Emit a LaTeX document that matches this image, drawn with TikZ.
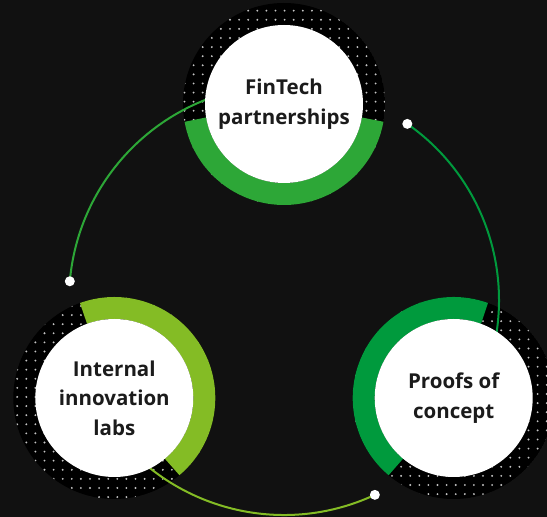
\documentclass[tikz,border=0pt]{standalone}
\usepackage{fontspec}
\setmainfont{Open Sans}
\usetikzlibrary{calc}
\definecolor{bgc}{HTML}{111111}
\definecolor{dotc}{HTML}{C4C4C4}
\definecolor{topg}{HTML}{2DA737}
\definecolor{limeg}{HTML}{84BC25}
\definecolor{darkg}{HTML}{009A3D}
\definecolor{txtc}{HTML}{1B1B1B}
\tikzset{
  whitecirc/.style={circle, fill=white, minimum size=158pt, inner sep=0pt, align=center, text=txtc,
    font=\fontsize{20.5}{29.5}\selectfont\bfseries},
  conn/.style={line width=2pt},
  ring/.style={line width=22pt},
  enddot/.style={circle, fill=white, minimum size=10pt, inner sep=0pt},
}
\begin{document}
\begin{tikzpicture}[x=1pt,y=1pt]
\useasboundingbox (0,0) rectangle (547,517);
\clip (0,0) rectangle (547,517);
\fill[bgc] (0,0) rectangle (547,517);
\coordinate (c) at (284,217);
\coordinate (t) at (284,413);
\coordinate (l) at (114.3,119);
\coordinate (r) at (453.7,119);
% dotted disks
\foreach \p/\ox/\oy in {t/0.6/2.3, l/3/1, r/2/4}{
  \begin{scope}[shift={(\p)}]
    \clip (0,0) circle (101pt);
    \fill[black] (0,0) circle (101pt);
    \foreach \i in {-12,...,12}{
      \foreach \j in {-12,...,12}{
        \fill[dotc] (\i*9.1+\ox,\j*9.1+\oy) circle (1.05pt);
      }
    }
  \end{scope}
}
% coloured rings
\draw[ring, topg] (t) ++(190:90pt) arc[start angle=190, end angle=350, radius=90pt];
\draw[ring, limeg] (l) ++(-50:90pt) arc[start angle=-50, end angle=110, radius=90pt];
\draw[ring, darkg] (r) ++(70:90pt) arc[start angle=70, end angle=230, radius=90pt];
% connector ends
\path (c) ++(175:215pt) coordinate (e1);
\path (c) ++(55:215pt) coordinate (e2);
\path (c) ++(295:215pt) coordinate (e3);
\path (c) ++(90:215pt) coordinate (s1);
\path (c) ++(330:215pt) coordinate (s2);
\path (c) ++(210:215pt) coordinate (s3);
% connectors
\draw[conn, topg] (s1) arc[start angle=90, end angle=175, radius=215pt];
\draw[conn, darkg] (s2) arc[start angle=-30, end angle=55, radius=215pt];
\draw[conn, limeg] (s3) arc[start angle=210, end angle=295, radius=215pt];
% white circles with text
\node[whitecirc] (tn) at (t) {FinTech\\partnerships};
\node[whitecirc] (ln) at (l) {Internal\\innovation\\labs};
\node[whitecirc] (rn) at (r) {Proofs of\\concept};
% end dots
\node[enddot] (d1) at (e1) {};
\node[enddot] (d2) at (e2) {};
\node[enddot] (d3) at (e3) {};
\end{tikzpicture}
\end{document}
